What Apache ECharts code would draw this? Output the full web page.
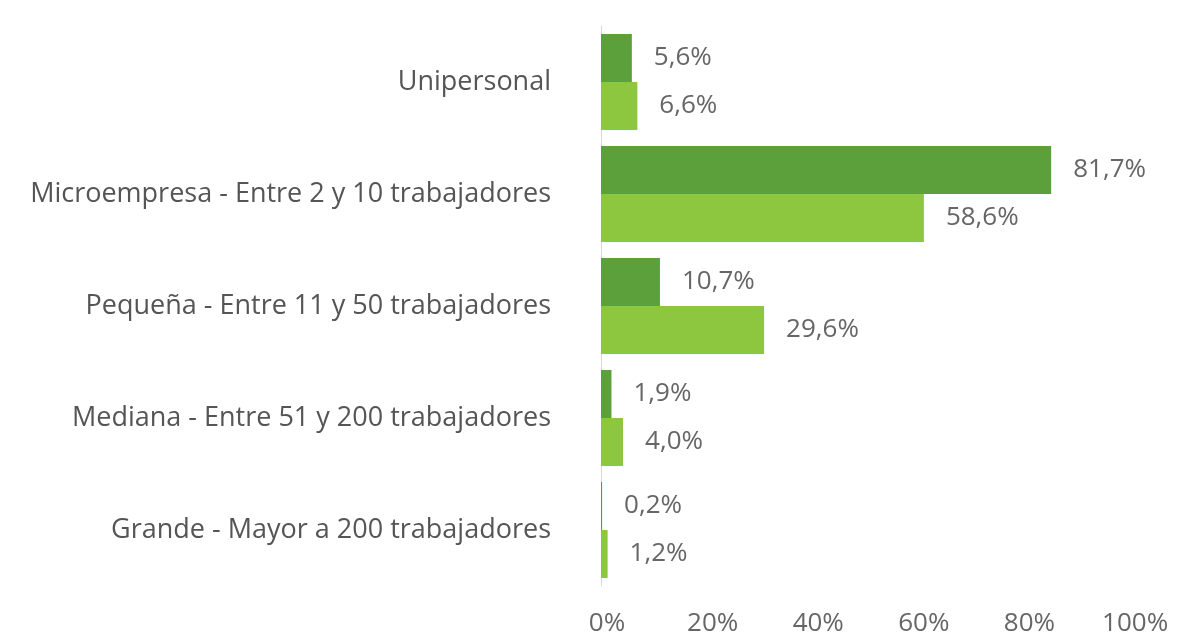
<!DOCTYPE html>
<html>
<head>
<meta charset="utf-8">
<script src="https://cdn.jsdelivr.net/npm/echarts@6/dist/echarts.min.js"></script>
<style>
  html, body { margin: 0; padding: 0; background: #fff; }
  #chart { width: 1189px; height: 640px; }
</style>
</head>
<body>
<div id="chart"></div>
<script>
// categorías (de arriba a abajo)
const categories = [
  'Unipersonal',
  'Microempresa - Entre 2 y 10 trabajadores',
  'Pequeña - Entre 11 y 50 trabajadores',
  'Mediana - Entre 51 y 200 trabajadores',
  'Grande - Mayor a 200 trabajadores'
];
const serieOscura = [5.6, 81.7, 10.7, 1.9, 0.2];
const serieClara = [6.6, 58.6, 29.6, 4.0, 1.2];
const xTicks = [0, 20, 40, 60, 80, 100];

const fmt = v => v.toFixed(1).replace('.', ',') + '%';

const chart = echarts.init(document.getElementById('chart'));

const labelStyle = {
  show: true,
  position: 'right',
  distance: 22,
  color: '#666',
  fontSize: 26,
  fontFamily: 'Open Sans',
  formatter: p => fmt(p.value)
};

chart.setOption({
  animation: false,
  grid: { left: 601, right: 37, top: 26, bottom: 54 },
  xAxis: [
    {
      // eje de las barras
      type: 'value',
      min: 0,
      max: 100,
      interval: 20,
      axisLine: { show: false },
      axisTick: { show: false },
      splitLine: { show: false },
      axisLabel: { show: false }
    },
    {
      // eje solo para las etiquetas, como en la imagen original
      type: 'value',
      position: 'bottom',
      min: -1.14,
      max: 103.2,
      axisLine: { show: false },
      axisTick: { show: false },
      splitLine: { show: false },
      axisLabel: {
        customValues: xTicks,
        color: '#666',
        fontSize: 26,
        fontFamily: 'Open Sans',
        margin: 25,
        formatter: v => v + '%'
      }
    }
  ],
  yAxis: {
    type: 'category',
    inverse: true,
    data: categories,
    axisLine: { show: true, lineStyle: { color: '#d9d9d9', width: 1 } },
    axisTick: { show: false },
    axisLabel: {
      color: '#555',
      fontSize: 27,
      fontFamily: 'Open Sans',
      margin: 50
    }
  },
  series: [
    {
      type: 'bar',
      data: serieOscura,
      barWidth: 48,
      barGap: '0%',
      itemStyle: { color: '#5ba03b' },
      label: labelStyle
    },
    {
      type: 'bar',
      data: serieClara,
      barWidth: 48,
      barGap: '0%',
      itemStyle: { color: '#8dc63f' },
      label: labelStyle
    }
  ]
});

window.addEventListener('resize', chart.resize);
</script>
</body>
</html>
